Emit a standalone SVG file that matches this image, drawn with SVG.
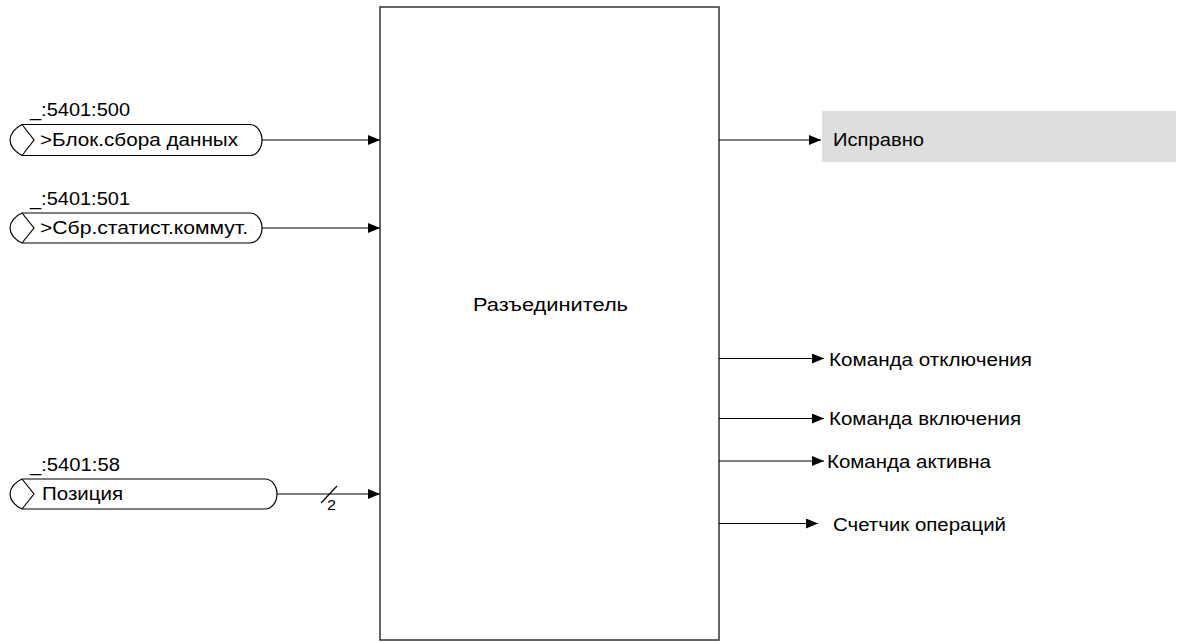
<svg xmlns="http://www.w3.org/2000/svg" width="1181" height="642" viewBox="0 0 1181 642">
  <style>
    text { font-family: "Liberation Sans", Arial, sans-serif; font-size: 17.5px; fill: #000; }
    .cap { fill: #fff; stroke: #000; stroke-width: 1.2; }
    .wire { fill: none; stroke: #000; stroke-width: 1.2; }
    .block { fill: #fff; stroke: #333; stroke-width: 1.5; }
  </style>
  <defs>
    <marker id="arrow" markerUnits="userSpaceOnUse" markerWidth="13" markerHeight="11" refX="12" refY="5" orient="auto">
      <path d="M0,0 L12,5 L0,10 Z" fill="#000"/>
    </marker>
  </defs>

  <rect width="1181" height="642" fill="#fff"/>

  <!-- Main function block -->
  <g id="block-disconnector">
    <rect class="block" x="380" y="7" width="339" height="633"/>
    <text x="473" y="311" textLength="155" lengthAdjust="spacingAndGlyphs">Разъединитель</text>
  </g>

  <!-- Input 1 -->
  <g id="in-block-data">
    <text x="30" y="116" textLength="100" lengthAdjust="spacingAndGlyphs">_:5401:500</text>
    <path class="cap" d="M22,124.5 H250 A12,15.5 0 0 1 250,155.5 H22 C15,152 10,146 10,140 C10,134 15,128 22,124.5 Z"/>
    <path class="wire" d="M22,124.5 L34,140 L22,155.5"/>
    <text x="40" y="146" textLength="198" lengthAdjust="spacingAndGlyphs">&gt;Блок.сбора данных</text>
  </g>

  <!-- Input 2 -->
  <g id="in-reset-stats">
    <text x="30" y="205" textLength="100" lengthAdjust="spacingAndGlyphs">_:5401:501</text>
    <path class="cap" d="M22,213 H250 A12,15 0 0 1 250,243 H22 C15,240 10,234 10,228 C10,222 15,216 22,213 Z"/>
    <path class="wire" d="M22,213 L34,228 L22,243"/>
    <text x="40" y="234" textLength="208" lengthAdjust="spacingAndGlyphs">&gt;Сбр.статист.коммут.</text>
  </g>

  <!-- Input 3 -->
  <g id="in-position">
    <text x="30" y="471" textLength="90" lengthAdjust="spacingAndGlyphs">_:5401:58</text>
    <path class="cap" d="M22,479 H265 A12,15 0 0 1 265,509 H22 C15,506 10,500 10,494 C10,488 15,482 22,479 Z"/>
    <path class="wire" d="M22,479 L34,494 L22,509"/>
    <text x="42" y="500" textLength="81" lengthAdjust="spacingAndGlyphs">Позиция</text>
  </g>

  <!-- Output: healthy indicator -->
  <g id="out-ok">
    <rect x="822" y="111" width="354" height="51" fill="#dedede"/>
    <text x="833" y="146" textLength="91" lengthAdjust="spacingAndGlyphs">Исправно</text>
  </g>

  <g id="out-trip">
    <text x="829" y="366" textLength="203" lengthAdjust="spacingAndGlyphs">Команда отключения</text>
  </g>
  <g id="out-close">
    <text x="829" y="425" textLength="192" lengthAdjust="spacingAndGlyphs">Команда включения</text>
  </g>
  <g id="out-active">
    <text x="827" y="468" textLength="164" lengthAdjust="spacingAndGlyphs">Команда активна</text>
  </g>
  <g id="out-counter">
    <text x="833" y="531" textLength="173" lengthAdjust="spacingAndGlyphs">Счетчик операций</text>
  </g>

  <!-- Connectors -->
  <g id="connectors">
    <path class="wire" d="M262,140 H380" marker-end="url(#arrow)"/>
    <path class="wire" d="M262,228 H380" marker-end="url(#arrow)"/>
    <path class="wire" d="M277,494 H380" marker-end="url(#arrow)"/>
    <!-- bus width mark -->
    <path class="wire" d="M321,503 L337,486"/>
    <text x="327" y="510" style="font-size:15px" textLength="9" lengthAdjust="spacingAndGlyphs">2</text>

    <path class="wire" d="M719,140 H821" marker-end="url(#arrow)"/>
    <path class="wire" d="M719,358.5 H824" marker-end="url(#arrow)"/>
    <path class="wire" d="M719,418.5 H824" marker-end="url(#arrow)"/>
    <path class="wire" d="M719,461 H824" marker-end="url(#arrow)"/>
    <path class="wire" d="M719,523.5 H818" marker-end="url(#arrow)"/>
  </g>
</svg>
